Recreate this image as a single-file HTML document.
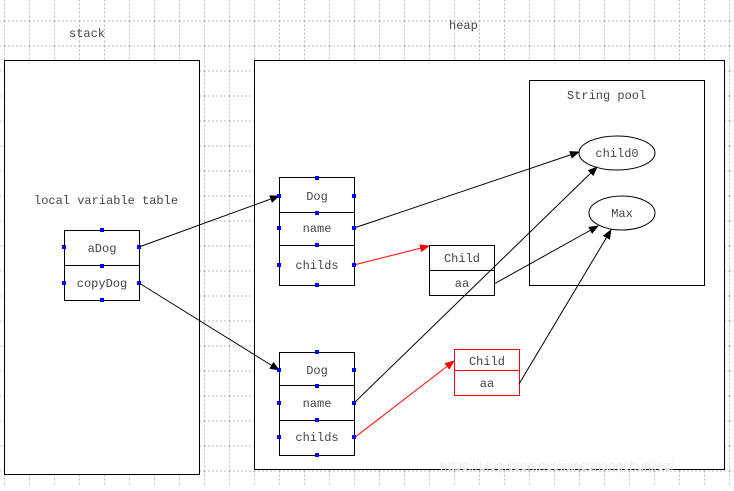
<!DOCTYPE html>
<html><head><meta charset="utf-8"><style>
html,body{margin:0;padding:0;background:#fff;}
svg text{font-family:"Liberation Mono","Noto Sans CJK SC",monospace;font-size:12px;fill:#444;}
</style></head><body>
<svg width="734" height="486" xmlns="http://www.w3.org/2000/svg">
<defs>
<pattern id="g" x="4" y="20.5" width="25" height="25" patternUnits="userSpaceOnUse">
<path d="M0.5 0V25M0 0.5H25" stroke="#bbb" stroke-width="1" stroke-dasharray="2,2" fill="none"/>
</pattern>
<marker id="ab" markerWidth="10" markerHeight="8" refX="9" refY="4" orient="auto" markerUnits="userSpaceOnUse"><path d="M0,0L10,4L0,8z" fill="#000"/></marker>
<marker id="ar" markerWidth="10" markerHeight="8" refX="9" refY="4" orient="auto" markerUnits="userSpaceOnUse"><path d="M0,0L10,4L0,8z" fill="#f00"/></marker>
</defs>
<rect width="734" height="486" fill="url(#g)"/>
<text x="69" y="37">stack</text>
<text x="449" y="29">heap</text>
<rect x="4.5" y="60.5" width="195" height="414" fill="#fff" stroke="#000"/>
<rect x="254.5" y="60.5" width="470" height="409" fill="#fff" stroke="#000"/>
<rect x="529.5" y="80.5" width="175" height="205" fill="#fff" stroke="#000"/>
<text x="34" y="204">local variable table</text>
<text x="567" y="99">String pool</text>
<!-- aDog -->
<rect x="64.5" y="230.5" width="75" height="70" fill="#fff" stroke="#000"/>
<line x1="64" y1="265.5" x2="140" y2="265.5" stroke="#000"/>
<text x="102" y="252" text-anchor="middle">aDog</text>
<text x="102" y="287" text-anchor="middle">copyDog</text>
<!-- Dog1 -->
<rect x="279.5" y="177.5" width="75" height="108" fill="#fff" stroke="#000"/>
<line x1="279" y1="212.5" x2="355" y2="212.5" stroke="#000"/>
<line x1="279" y1="245.5" x2="355" y2="245.5" stroke="#000"/>
<text x="317" y="200" text-anchor="middle">Dog</text>
<text x="317" y="232" text-anchor="middle">name</text>
<text x="317" y="269" text-anchor="middle">childs</text>
<!-- Dog2 -->
<rect x="279.5" y="352.5" width="75" height="103" fill="#fff" stroke="#000"/>
<line x1="279" y1="385.5" x2="355" y2="385.5" stroke="#000"/>
<line x1="279" y1="420.5" x2="355" y2="420.5" stroke="#000"/>
<text x="317" y="374" text-anchor="middle">Dog</text>
<text x="317" y="407" text-anchor="middle">name</text>
<text x="317" y="441" text-anchor="middle">childs</text>
<!-- Child1 -->
<rect x="429.5" y="245.5" width="65" height="50" fill="#fff" stroke="#000"/>
<line x1="429" y1="270.5" x2="495" y2="270.5" stroke="#000"/>
<text x="462" y="262" text-anchor="middle">Child</text>
<text x="462" y="287" text-anchor="middle">aa</text>
<!-- Child2 -->
<rect x="454.5" y="349.5" width="65" height="46" fill="#fff" stroke="#f00"/>
<line x1="454" y1="370.5" x2="520" y2="370.5" stroke="#f00"/>
<text x="487" y="365" text-anchor="middle">Child</text>
<text x="487" y="387" text-anchor="middle">aa</text>
<!-- ellipses -->
<ellipse cx="617" cy="153" rx="38" ry="17" fill="#fff" stroke="#000"/>
<text x="617" y="157" text-anchor="middle">child0</text>
<ellipse cx="622" cy="213" rx="33" ry="17" fill="#fff" stroke="#000"/>
<text x="622" y="217" text-anchor="middle">Max</text>
<!-- connectors -->
<g fill="none" stroke-width="1">
<line x1="139" y1="247" x2="279" y2="196" stroke="#000" marker-end="url(#ab)"/>
<line x1="139" y1="283" x2="279" y2="370" stroke="#000" marker-end="url(#ab)"/>
<line x1="354" y1="228" x2="579" y2="152" stroke="#000" marker-end="url(#ab)"/>
<line x1="354" y1="265" x2="429" y2="246" stroke="#f00" marker-end="url(#ar)"/>
<line x1="494" y1="284" x2="598" y2="226" stroke="#000" marker-end="url(#ab)"/>
<line x1="354" y1="403" x2="597" y2="167" stroke="#000" marker-end="url(#ab)"/>
<line x1="354" y1="438" x2="454" y2="361" stroke="#f00" marker-end="url(#ar)"/>
<line x1="519" y1="384" x2="611" y2="230" stroke="#000" marker-end="url(#ab)"/>
</g>
<!-- handles -->
<g fill="#00f">
<rect x="100" y="228" width="4" height="4"/><rect x="62" y="245" width="4" height="4"/><rect x="137" y="245" width="4" height="4"/>
<rect x="100" y="264" width="4" height="4"/><rect x="62" y="281" width="4" height="4"/><rect x="137" y="281" width="4" height="4"/><rect x="100" y="298" width="4" height="4"/>
<rect x="315" y="176" width="4" height="4"/><rect x="277" y="194" width="4" height="4"/><rect x="352" y="194" width="4" height="4"/>
<rect x="315" y="211" width="4" height="4"/><rect x="277" y="226" width="4" height="4"/><rect x="352" y="226" width="4" height="4"/>
<rect x="315" y="243" width="4" height="4"/><rect x="277" y="263" width="4" height="4"/><rect x="352" y="263" width="4" height="4"/><rect x="315" y="283" width="4" height="4"/>
<rect x="315" y="350" width="4" height="4"/><rect x="277" y="368" width="4" height="4"/><rect x="352" y="368" width="4" height="4"/>
<rect x="315" y="384" width="4" height="4"/><rect x="277" y="401" width="4" height="4"/><rect x="352" y="401" width="4" height="4"/>
<rect x="315" y="418" width="4" height="4"/><rect x="277" y="435" width="4" height="4"/><rect x="352" y="435" width="4" height="4"/><rect x="315" y="453" width="4" height="4"/>
</g>
<text x="440" y="470" style="font-family:'Liberation Sans',sans-serif;font-size:13px;fill:#eee">https://blog.csdn.net/jiangshangchunjiezi</text>
</svg>
</body></html>
